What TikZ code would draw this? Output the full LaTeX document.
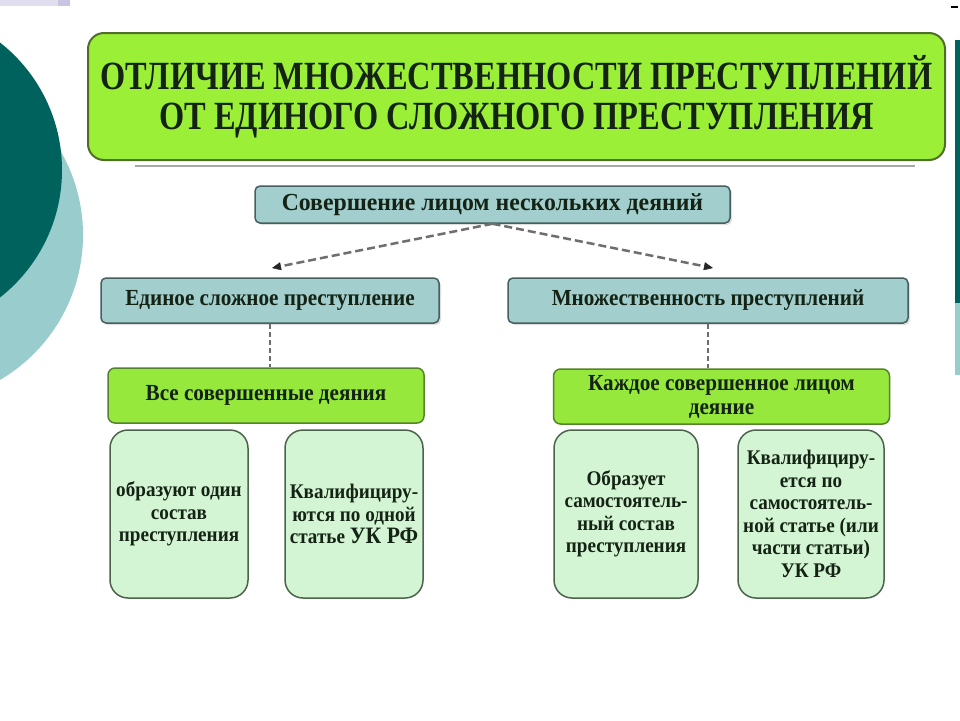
\documentclass[tikz,border=0pt]{standalone}
\usepackage{fontspec}
\setmainfont{Liberation Serif}
\newfontfamily\titlefont{Liberation Serif}[FakeStretch=0.81]
\newfontfamily\boxfont{Liberation Serif}[FakeStretch=0.92]
\newfontfamily\topfont{Liberation Serif}[FakeStretch=0.97]
\usetikzlibrary{shadows,arrows.meta}
\definecolor{limefill}{RGB}{155,240,55}
\definecolor{limeborder}{RGB}{80,110,40}
\definecolor{tealfill}{RGB}{163,206,206}
\definecolor{tealborder}{RGB}{70,95,95}
\definecolor{greenfill}{RGB}{150,232,60}
\definecolor{greenborder}{RGB}{85,130,45}
\definecolor{palefill}{RGB}{212,245,212}
\definecolor{paleborder}{RGB}{75,100,75}
\definecolor{darkteal}{RGB}{0,98,92}
\definecolor{lightteal}{RGB}{153,204,204}
\definecolor{txt}{RGB}{20,35,20}
\definecolor{lav}{RGB}{225,222,240}
\definecolor{lavdark}{RGB}{200,196,225}
\definecolor{dashgray}{RGB}{110,110,110}
\tikzset{
  titlebox/.style={draw=limeborder, fill=limefill, line width=2, rounded corners=16,
    text=txt, align=center, inner sep=0,
    font=\titlefont\bfseries\fontsize{40}{39.5}\selectfont},
  tealbox/.style={draw=tealborder, fill=tealfill, line width=1.5, rounded corners=5,
    drop shadow={opacity=0.25, shadow xshift=2pt, shadow yshift=-2pt},
    text=txt, inner sep=0, font=\boxfont\bfseries\fontsize{23}{26}\selectfont},
  greenbox/.style={draw=greenborder, fill=greenfill, line width=1.5, rounded corners=7,
    text=txt, inner sep=0, align=center, font=\boxfont\bfseries\fontsize{23}{24}\selectfont},
  palebox/.style={draw=paleborder, fill=palefill, line width=1.5, rounded corners=18,
    text=txt, inner sep=0, align=center, font=\boxfont\bfseries\fontsize{20.8}{22.5}\selectfont},
  dasharrow/.style={draw=dashgray, line width=2.5, dash pattern=on 8pt off 4pt,
    -{Triangle[length=9pt,width=8pt,color=black!85,fill=black!85,line width=0.5pt]}},
  vdash/.style={draw=dashgray, line width=2, dash pattern=on 5pt off 3pt},
}
\begin{document}
\begin{tikzpicture}[x=1pt,y=-1pt]
\useasboundingbox (0,0) rectangle (960,720);
\fill[white] (0,0) rectangle (960,720);
% decorative background
\begin{scope}
\clip (0,0) rectangle (960,720);
\fill[lightteal] (-85,235) circle (168);
\fill[darkteal] (-100,170) circle (162);
\fill[lightteal] (955,40) rectangle (960,375);
\fill[darkteal] (955,40) rectangle (960,303);
\fill[lav] (0,0) rectangle (58,6);
\fill[lavdark] (58,0) rectangle (70,6);
\fill[black] (951,6) rectangle (958,8);
\end{scope}
% title
\node[titlebox, minimum width=857, minimum height=127] (title) at (516.5,96.5)
  {ОТЛИЧИЕ МНОЖЕСТВЕННОСТИ ПРЕСТУПЛЕНИЙ\\ОТ ЕДИНОГО СЛОЖНОГО ПРЕСТУПЛЕНИЯ};
\draw[gray!70, line width=1.5] (135,166) -- (915,166);
% level 1
\node[tealbox, minimum width=475, minimum height=37,
  font=\topfont\bfseries\fontsize{24.5}{26}\selectfont] (top) at (492.5,204.5)
  {Совершение лицом нескольких деяний};
% level 2
\node[tealbox, minimum width=338, minimum height=45] (L) at (270,300.5)
  {Единое сложное преступление};
\node[tealbox, minimum width=400, minimum height=45] (R) at (708,300.5)
  {Множественность преступлений};
\coordinate (aL) at (272,268);
\coordinate (aR) at (713,268);
\draw[dasharrow] (top.south) -- (aL);
\draw[dasharrow] (top.south) -- (aR);
% level 3
\node[greenbox, minimum width=316, minimum height=55] (gA) at (266,395.5)
  {Все совершенные деяния};
\node[greenbox, minimum width=336, minimum height=55, yshift=-1] (gB) at (721.5,395.5)
  {Каждое совершенное лицом\\деяние};
\draw[vdash] (L.south) -- (L.south |- gA.north);
\draw[vdash] (R.south) -- (R.south |- gB.north);
% level 4
\node[palebox, minimum width=138, minimum height=168] (p1) at (179,514)
  {образуют один\\состав\\преступления};
\node[palebox, minimum width=138, minimum height=168] (p2) at (354,514)
  {Квалифициру-\\ются по одной\\статье {\fontsize{23.5}{22.5}\selectfont УК РФ}};
\node[palebox, minimum width=144, minimum height=168] (p3) at (626,514)
  {Образует\\самостоятель-\\ный состав\\преступления};
\node[palebox, minimum width=146, minimum height=168] (p4) at (811,514)
  {Квалифициру-\\ется по\\самостоятель-\\ной статье (или\\части статьи)\\УК РФ};
\end{tikzpicture}
\end{document}
